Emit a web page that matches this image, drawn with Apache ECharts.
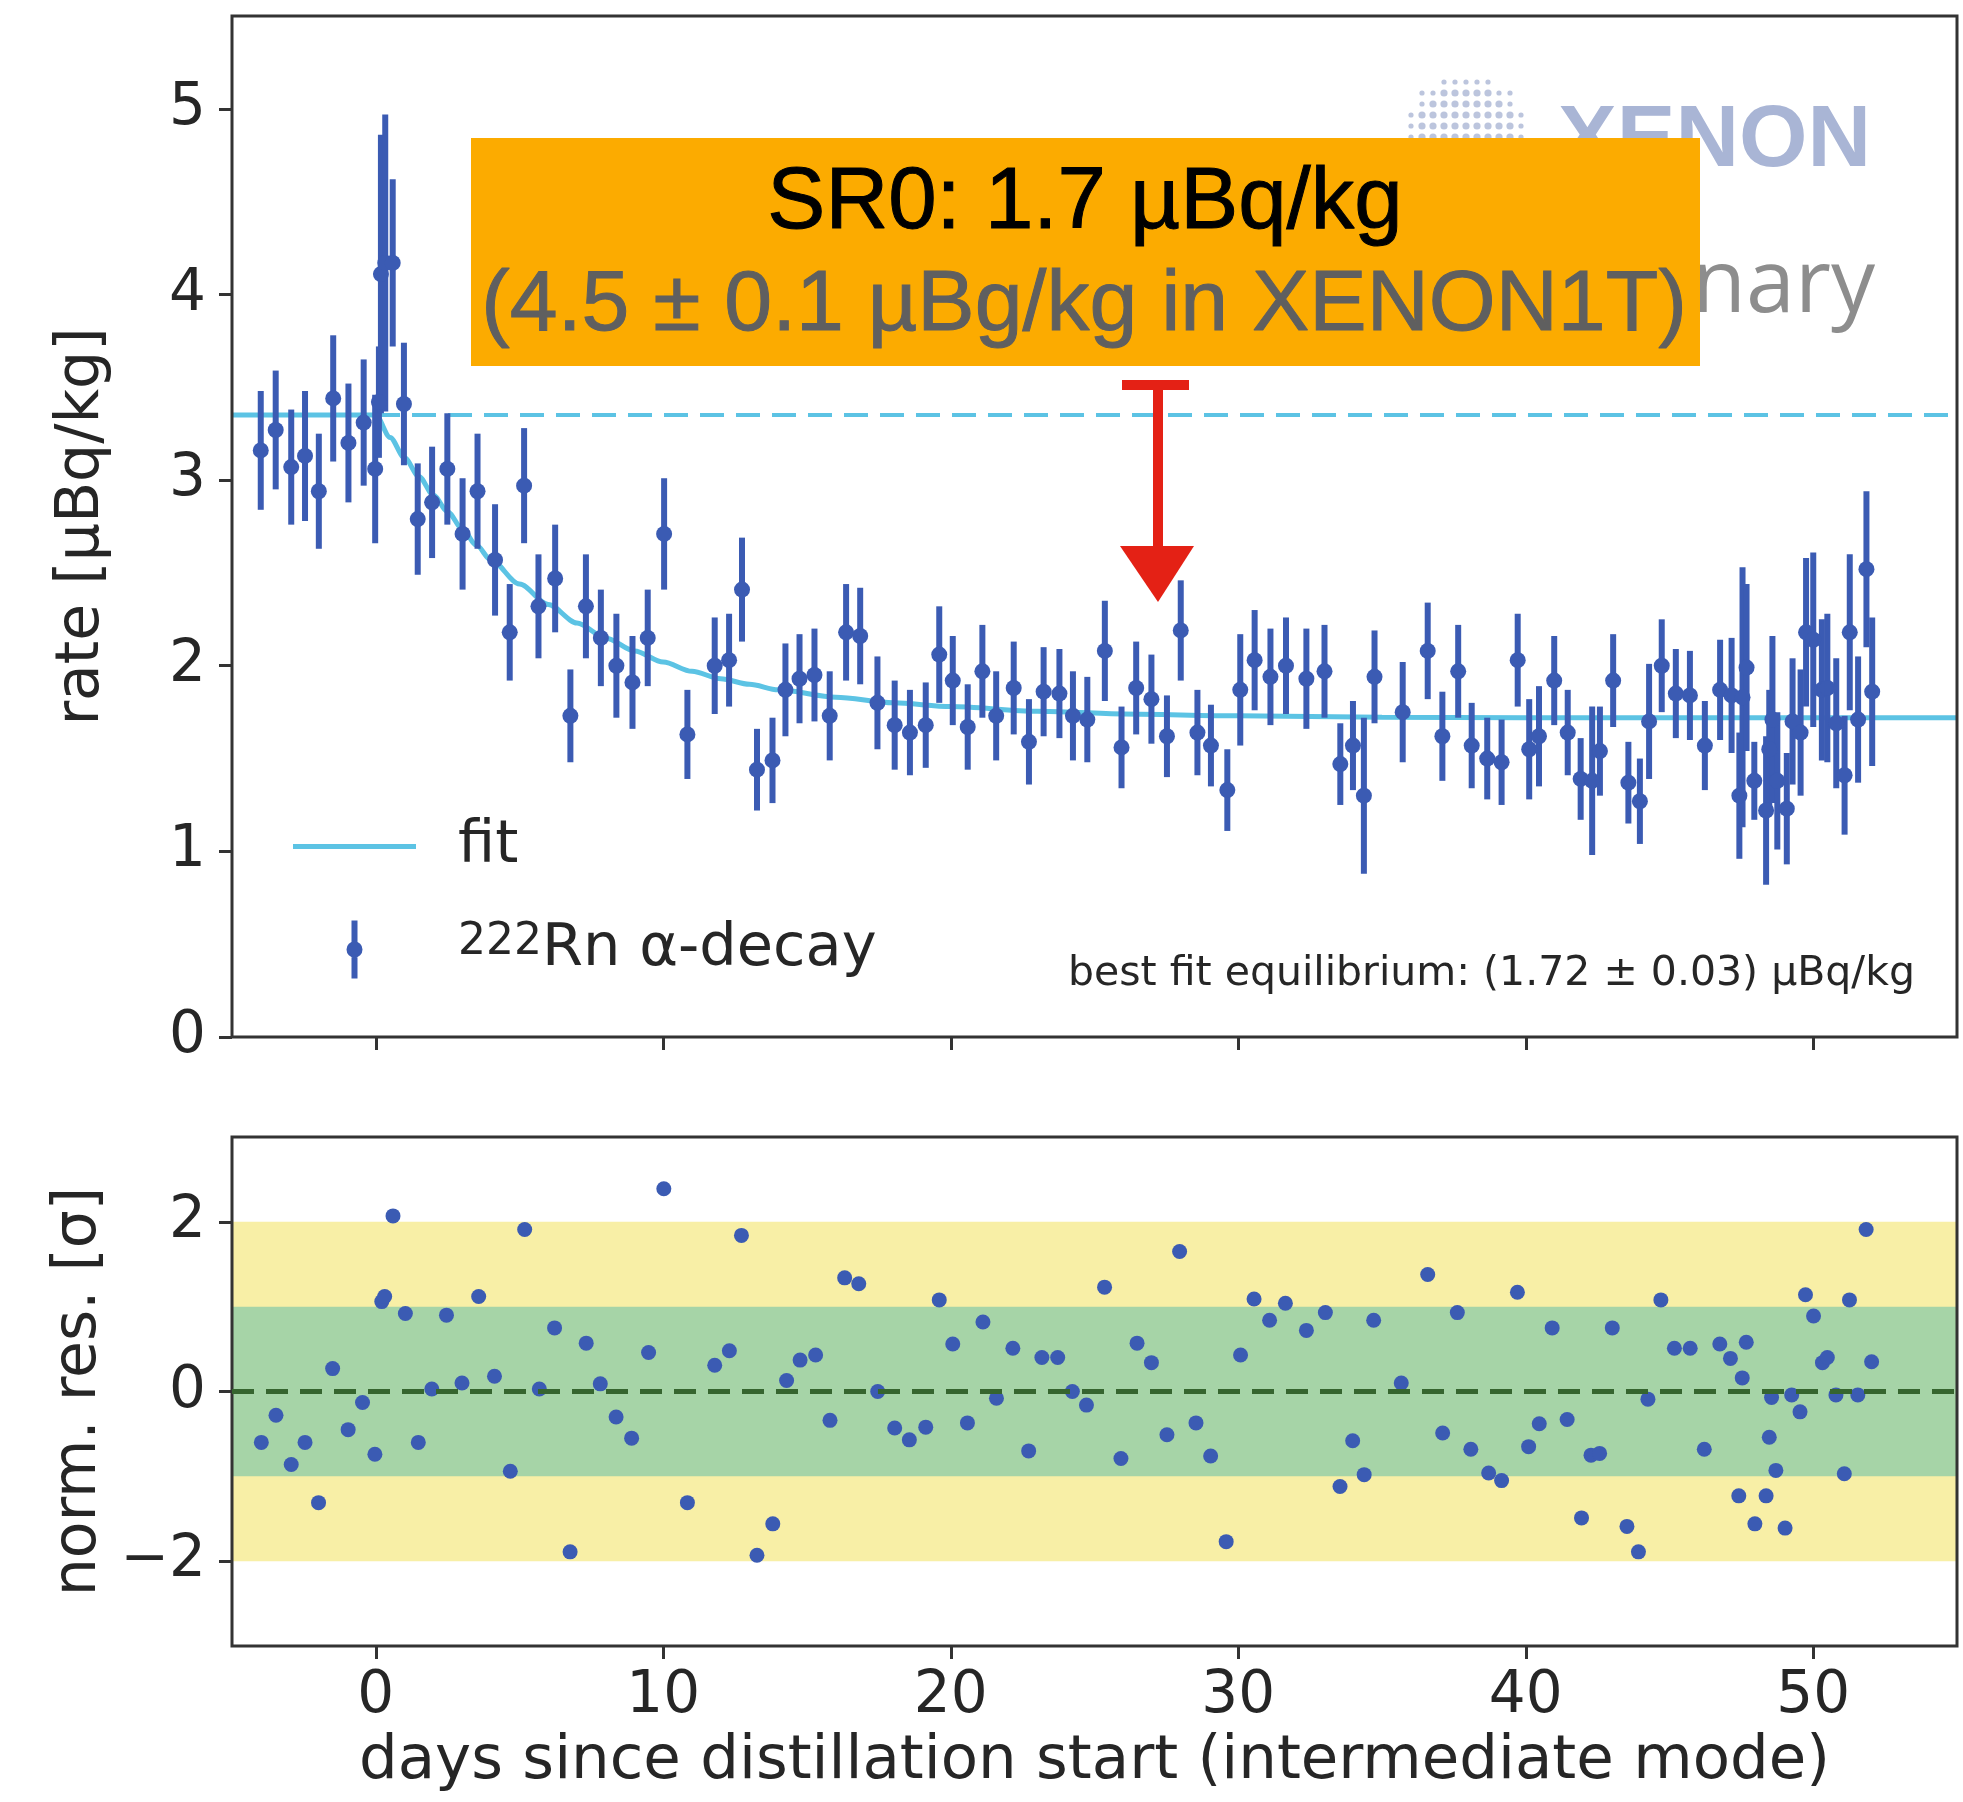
<!DOCTYPE html>
<html>
<head>
<meta charset="utf-8">
<script src="https://cdn.jsdelivr.net/npm/echarts@6/dist/echarts.min.js"></script>
<style>
html,body{margin:0;padding:0;background:#ffffff;}
#c{width:1963px;height:1802px;}
</style>
</head>
<body>
<div id="c"></div>
<script>
// ---------------- data ----------------
const days = [-4.00,-3.48,-2.94,-2.46,-1.98,-1.48,-0.95,-0.42,-0.02,0.11,0.18,0.33,0.59,0.98,1.46,1.96,2.49,3.02,3.54,4.15,4.66,5.16,5.66,6.24,6.77,7.31,7.83,8.37,8.93,9.46,10.03,10.84,11.79,12.29,12.74,13.26,13.80,14.25,14.74,15.26,15.79,16.36,16.85,17.45,18.05,18.58,19.13,19.60,20.07,20.59,21.10,21.58,22.19,22.72,23.23,23.78,24.25,24.75,25.36,25.94,26.45,26.98,27.52,28.00,28.58,29.05,29.62,30.07,30.57,31.12,31.66,32.37,33.00,33.55,33.99,34.37,34.74,35.72,36.59,37.10,37.65,38.12,38.66,39.16,39.72,40.12,40.46,40.99,41.46,41.91,42.31,42.58,43.04,43.57,43.97,44.29,44.73,45.22,45.71,46.23,46.76,47.16,47.43,47.54,47.68,47.95,48.36,48.47,48.58,48.75,49.08,49.28,49.56,49.75,50.00,50.30,50.49,50.80,51.09,51.27,51.56,51.85,52.05];
const rate = [3.16,3.27,3.07,3.13,2.94,3.44,3.20,3.31,3.06,3.42,4.11,4.17,4.17,3.41,2.79,2.88,3.06,2.71,2.94,2.57,2.18,2.97,2.32,2.47,1.73,2.32,2.15,2.00,1.91,2.15,2.71,1.63,2.00,2.03,2.41,1.44,1.49,1.87,1.93,1.95,1.73,2.18,2.16,1.80,1.68,1.64,1.68,2.06,1.92,1.67,1.97,1.73,1.88,1.59,1.86,1.85,1.73,1.71,2.08,1.56,1.88,1.82,1.62,2.19,1.64,1.57,1.33,1.87,2.03,1.94,2.00,1.93,1.97,1.47,1.57,1.30,1.94,1.75,2.08,1.62,1.97,1.57,1.50,1.48,2.03,1.55,1.62,1.92,1.64,1.39,1.38,1.54,1.92,1.37,1.27,1.70,2.00,1.85,1.84,1.57,1.87,1.84,1.30,1.83,1.99,1.38,1.22,1.55,1.71,1.38,1.23,1.70,1.64,2.18,2.14,1.87,1.88,1.69,1.41,2.18,1.71,2.52,1.86];
const rateErr = [0.32,0.32,0.31,0.35,0.31,0.34,0.32,0.34,0.40,0.30,0.75,0.80,0.45,0.33,0.30,0.30,0.30,0.30,0.31,0.30,0.26,0.31,0.28,0.29,0.25,0.28,0.26,0.28,0.25,0.26,0.30,0.24,0.26,0.25,0.28,0.22,0.23,0.25,0.24,0.25,0.24,0.26,0.26,0.25,0.24,0.23,0.23,0.26,0.24,0.23,0.25,0.24,0.25,0.23,0.24,0.24,0.24,0.23,0.27,0.22,0.25,0.24,0.22,0.27,0.23,0.22,0.22,0.30,0.27,0.26,0.26,0.27,0.25,0.22,0.24,0.42,0.25,0.27,0.26,0.24,0.25,0.23,0.22,0.23,0.25,0.27,0.27,0.24,0.23,0.22,0.40,0.24,0.25,0.22,0.23,0.31,0.25,0.24,0.24,0.24,0.27,0.31,0.34,0.70,0.45,0.21,0.40,0.32,0.45,0.37,0.30,0.34,0.34,0.40,0.47,0.38,0.40,0.35,0.32,0.42,0.34,0.42,0.40];

const fitDays = [-5,0,0.5,1,1.5,2,2.5,3,3.5,4,5,6,7,8,9,10,11,12,13,14,16,18,20,23,26,30,35,40,55];
const fitVals = [3.35,3.35,3.23,3.12,3.02,2.92,2.83,2.74,2.65,2.57,2.44,2.33,2.23,2.15,2.08,2.02,1.97,1.93,1.90,1.87,1.83,1.80,1.78,1.755,1.74,1.73,1.722,1.72,1.72];

const dashDays = [-5, 55];
const dashLevel = 3.35;

const resDays = [-3.98,-3.47,-2.94,-2.46,-1.99,-1.50,-0.96,-0.46,-0.03,0.21,0.31,0.60,1.03,1.48,1.95,2.46,3.00,3.58,4.13,4.68,5.18,5.69,6.22,6.76,7.32,7.81,8.36,8.90,9.49,10.02,10.84,11.79,12.30,12.72,13.26,13.81,14.29,14.76,15.30,15.80,16.31,16.80,17.46,18.05,18.56,19.13,19.60,20.07,20.58,21.12,21.59,22.16,22.71,23.17,23.72,24.23,24.72,25.35,25.92,26.48,26.98,27.52,27.96,28.53,29.04,29.58,30.08,30.55,31.09,31.64,32.37,33.03,33.54,33.98,34.38,34.71,35.67,36.59,37.11,37.62,38.09,38.71,39.16,39.71,40.10,40.47,40.92,41.44,41.94,42.27,42.57,43.01,43.52,43.92,44.25,44.70,45.17,45.72,46.21,46.75,47.12,47.41,47.53,47.67,47.97,48.36,48.47,48.55,48.70,49.02,49.25,49.54,49.73,50.01,50.32,50.49,50.79,51.08,51.26,51.55,51.84,52.03];
const resVals = [-0.60,-0.28,-0.86,-0.60,-1.31,0.27,-0.45,-0.13,-0.74,1.06,1.12,2.07,0.92,-0.60,0.03,0.90,0.10,1.12,0.18,-0.94,1.91,0.03,0.75,-1.89,0.57,0.09,-0.30,-0.55,0.46,2.39,-1.31,0.31,0.48,1.84,-1.93,-1.56,0.13,0.37,0.43,-0.34,1.34,1.27,0.00,-0.43,-0.57,-0.42,1.08,0.56,-0.37,0.82,-0.08,0.51,-0.70,0.40,0.40,0.00,-0.16,1.23,-0.79,0.57,0.34,-0.51,1.65,-0.37,-0.76,-1.77,0.43,1.09,0.84,1.04,0.72,0.93,-1.12,-0.58,-0.98,0.84,0.10,1.38,-0.49,0.93,-0.68,-0.96,-1.05,1.17,-0.65,-0.38,0.75,-0.33,-1.49,-0.75,-0.73,0.75,-1.59,-1.89,-0.09,1.08,0.51,0.51,-0.68,0.56,0.39,-1.23,0.16,0.58,-1.56,-1.23,-0.54,-0.07,-0.93,-1.61,-0.04,-0.24,1.14,0.89,0.34,0.40,-0.04,-0.97,1.08,-0.04,1.91,0.35];

const sigmaBands = [2, 1];
const resZero = 0;

const xTicks = [0, 10, 20, 30, 40, 50];
const rateTicks = [0, 1, 2, 3, 4, 5];
const resTicks = [-2, 0, 2];

const xRange = [-5, 55];
const rateRange = [0, 5.5];
const resRange = [-3, 3];

const xTitle = 'days since distillation start (intermediate mode)';
const rateTitle = 'rate [µBq/kg]';
const resTitle = 'norm. res. [σ]';
const fitText = 'best fit equilibrium: (1.72 ± 0.03) µBq/kg';
const boxLine1 = 'SR0: 1.7 µBq/kg';
const boxLine2 = '(4.5 ± 0.1 µBg/kg in XENON1T)';

// ---------------- styles ----------------
const BLUE = '#3b5bb3';
const FIT = '#5cc3e4';
const AX = '#333333';
const TXT = '#262626';
const FONT = 'DejaVu Sans';
const RED = '#e42115';

const minus = v => String(v).replace('-', '\u2212');

const rnPoints = days.map((d, i) => [d, rate[i]]);
const rnBars = days.map((d, i) => [d, rate[i] - rateErr[i], rate[i] + rateErr[i]]);
const fitLine = fitDays.map((d, i) => [d, fitVals[i]]);
const dashLine = dashDays.map(d => [d, dashLevel]);
const resPoints = resDays.map((d, i) => [d, resVals[i]]);

const tickStyle = { show: true, length: 13, lineStyle: { color: AX, width: 3 } };
const labelStyle = { fontSize: 58, fontFamily: FONT, color: TXT };

const rnIcon = 'path://M4,0 L10,0 L10,58 L4,58 Z M-1,29 a8,8 0 1,1 16,0 a8,8 0 1,1 -16,0 Z';
const fitIcon = 'path://M0,0 L123,0 L123,5 L0,5 Z';

// decorative logo dots
const logo = [];
for (let gx = -6; gx <= 6; gx++) {
  for (let gy = -6; gy <= 6; gy++) {
    const dx = gx * 11, dy = gy * 11;
    const r2 = dx * dx + dy * dy;
    if (r2 <= 64 * 64) {
      logo.push({ type: 'circle', z: 40, shape: { cx: 1466 + dx, cy: 137 + dy, r: r2 > 50 * 50 ? 2.6 : 3.6 }, style: { fill: '#bcc5dd' } });
    }
  }
}

const chart = echarts.init(document.getElementById('c'), null, { renderer: 'canvas' });

const noLine = { show: false, onZero: false };

const option = {
  animation: false,
  backgroundColor: '#ffffff',
  grid: [
    { left: 232, top: 16, width: 1725, height: 1021, show: true, borderColor: AX, borderWidth: 3, backgroundColor: 'rgba(0,0,0,0)', z: 5 },
    { left: 232, top: 1137, width: 1725, height: 509, show: true, borderColor: AX, borderWidth: 3, backgroundColor: 'rgba(0,0,0,0)', z: 5 }
  ],
  xAxis: [
    {
      type: 'value', gridIndex: 0, min: xRange[0], max: xRange[1], position: 'bottom',
      axisLine: noLine, splitLine: { show: false },
      axisTick: Object.assign({}, tickStyle, { customValues: xTicks }),
      axisLabel: { show: false, customValues: xTicks }
    },
    {
      type: 'value', gridIndex: 1, min: xRange[0], max: xRange[1], position: 'bottom',
      axisLine: noLine, splitLine: { show: false },
      axisTick: Object.assign({}, tickStyle, { customValues: xTicks }),
      axisLabel: Object.assign({}, labelStyle, { customValues: xTicks, margin: 22, formatter: minus }),
      name: xTitle, nameLocation: 'middle', nameGap: 86,
      nameTextStyle: { fontSize: 61, fontFamily: FONT, color: TXT }
    }
  ],
  yAxis: [
    {
      type: 'value', gridIndex: 0, min: rateRange[0], max: rateRange[1], position: 'left',
      axisLine: noLine, splitLine: { show: false },
      axisTick: Object.assign({}, tickStyle, { customValues: rateTicks }),
      axisLabel: Object.assign({}, labelStyle, { customValues: rateTicks, margin: 26, formatter: minus }),
      name: rateTitle, nameLocation: 'middle', nameGap: 120, nameRotate: 90,
      nameTextStyle: { fontSize: 60, fontFamily: FONT, color: TXT }
    },
    {
      type: 'value', gridIndex: 1, min: resRange[0], max: resRange[1], position: 'left',
      axisLine: noLine, splitLine: { show: false },
      axisTick: Object.assign({}, tickStyle, { customValues: resTicks }),
      axisLabel: Object.assign({}, labelStyle, { customValues: resTicks, margin: 26, formatter: minus }),
      name: resTitle, nameLocation: 'middle', nameGap: 120, nameRotate: 90,
      nameTextStyle: { fontSize: 60, fontFamily: FONT, color: TXT }
    }
  ],
  legend: {
    orient: 'vertical', left: 288, top: 812,
    itemWidth: 123, itemHeight: 58, itemGap: 44,
    selectedMode: false,
    data: [{ name: 'fit', icon: fitIcon }, { name: 'rn', icon: rnIcon }],
    formatter: n => n === 'fit' ? 'fit' : '{sup|222}Rn α-decay',
    textStyle: {
      fontSize: 59, fontFamily: FONT, color: TXT, lineHeight: 58, padding: [0, 0, 0, 37],
      rich: { sup: { fontSize: 44, fontFamily: FONT, color: TXT, lineHeight: 58, verticalAlign: 'top' } }
    }
  },
  series: [
    {
      name: 'fit', type: 'line', xAxisIndex: 0, yAxisIndex: 0, data: fitLine,
      symbol: 'none', smooth: 0.3, smoothMonotone: 'x',
      lineStyle: { color: FIT, width: 5 }, itemStyle: { color: FIT }, z: 2
    },
    {
      name: 'start level', type: 'line', xAxisIndex: 0, yAxisIndex: 0, data: dashLine,
      symbol: 'none', lineStyle: { color: FIT, width: 4, type: [24, 12] }, z: 2
    },
    {
      name: 'rn', type: 'scatter', xAxisIndex: 0, yAxisIndex: 0, data: rnPoints,
      symbol: 'circle', symbolSize: 16, itemStyle: { color: BLUE, opacity: 1 }, z: 4
    },
    {
      name: 'rn', type: 'custom', xAxisIndex: 0, yAxisIndex: 0, data: rnBars,
      encode: { x: 0, y: [1, 2] }, clip: true, z: 3,
      itemStyle: { color: BLUE },
      renderItem: function (params, api) {
        const x = api.value(0);
        const p1 = api.coord([x, api.value(1)]);
        const p2 = api.coord([x, api.value(2)]);
        return { type: 'line', shape: { x1: p1[0], y1: p1[1], x2: p2[0], y2: p2[1] }, style: { stroke: BLUE, lineWidth: 6 } };
      }
    },
    {
      name: 'residuals', type: 'scatter', xAxisIndex: 1, yAxisIndex: 1, data: resPoints,
      symbol: 'circle', symbolSize: 15, itemStyle: { color: BLUE, opacity: 1 }, z: 4,
      markArea: {
        silent: true,
        data: [
          [{ yAxis: -sigmaBands[0], itemStyle: { color: '#f8efa6' } }, { yAxis: sigmaBands[0] }],
          [{ yAxis: -sigmaBands[1], itemStyle: { color: '#a6d4a7' } }, { yAxis: sigmaBands[1] }]
        ]
      },
      markLine: {
        silent: true, symbol: 'none', label: { show: false },
        lineStyle: { color: '#36652f', width: 5, type: [22, 12] },
        data: [{ yAxis: resZero }]
      }
    }
  ],
  graphic: {
    elements: logo.concat([
      { type: 'text', z: 45, x: 1558, y: 142, style: { text: 'XENON', fontSize: 88, fontWeight: 'bold', fontFamily: 'Liberation Sans', fill: '#a9b5d5', align: 'left', verticalAlign: 'middle', textAlign: 'left', textVerticalAlign: 'middle' } },
      { type: 'text', z: 45, x: 1875, y: 287, style: { text: 'Preliminary', fontSize: 88, fontFamily: 'Open Sans', fill: '#8d8d8d', align: 'right', verticalAlign: 'middle', textAlign: 'right', textVerticalAlign: 'middle' } },
      { type: 'rect', z: 100, shape: { x: 471, y: 138, width: 1229, height: 228 }, style: { fill: '#fcab00' } },
      { type: 'text', z: 101, x: 1085, y: 204, style: { text: boxLine1, fontSize: 87, fontFamily: 'Liberation Sans', fill: '#000000', stroke: '#000000', lineWidth: 1, align: 'center', verticalAlign: 'middle', textAlign: 'center', textVerticalAlign: 'middle' } },
      { type: 'text', z: 101, x: 1084, y: 306, style: { text: boxLine2, fontSize: 86, fontFamily: 'Liberation Sans', fill: '#5f5f5f', stroke: '#5f5f5f', lineWidth: 1, align: 'center', verticalAlign: 'middle', textAlign: 'center', textVerticalAlign: 'middle' } },
      { type: 'rect', z: 102, shape: { x: 1122, y: 380, width: 67, height: 10 }, style: { fill: RED } },
      { type: 'rect', z: 102, shape: { x: 1153, y: 385, width: 10, height: 170 }, style: { fill: RED } },
      { type: 'polygon', z: 102, shape: { points: [[1120, 546], [1194, 546], [1158, 602]] }, style: { fill: RED } },
      { type: 'text', z: 60, x: 1068, y: 974, style: { text: fitText, fontSize: 41, fontFamily: FONT, fill: TXT, align: 'left', verticalAlign: 'middle', textAlign: 'left', textVerticalAlign: 'middle' } }
    ])
  }
};

chart.setOption(option);
</script>
</body>
</html>
